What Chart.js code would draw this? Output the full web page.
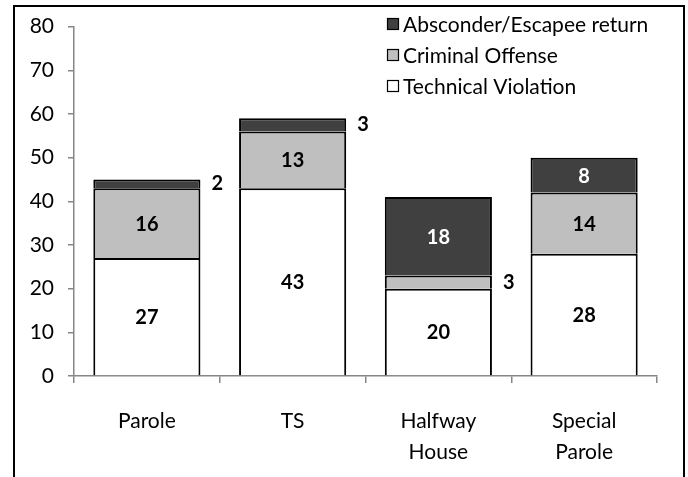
<!DOCTYPE html>
<html>
<head>
<meta charset="utf-8">
<script src="https://cdn.jsdelivr.net/npm/chart.js@4/dist/chart.umd.min.js"></script>
<style>
    html, body { margin: 0; padding: 0; background: #fff; }
    #wrap { position: relative; width: 688px; height: 477px; overflow: hidden; }
    #chart { position: absolute; left: 0; top: 0; }
    #frame {
        position: absolute; left: 13px; top: 5px; width: 668px; height: 520px;
        border: 2px solid #000; pointer-events: none;
    }
</style>
</head>
<body>
<div id="wrap">
    <canvas id="chart" width="688" height="477"></canvas>
    <div id="frame"></div>
</div>
<script>
// Chart data
const categories = [['Parole'], ['TS'], ['Halfway', 'House'], ['Special', 'Parole']];
const seriesNames = ['Technical Violation', 'Criminal Offense', 'Absconder/Escapee return'];
const technicalViolation = [27, 43, 20, 28];
const criminalOffense = [16, 13, 3, 14];
const absconderReturn = [2, 3, 18, 8];
const yTicks = [0, 10, 20, 30, 40, 50, 60, 70, 80];

const fillColors = ['#ffffff', '#bfbfbf', '#404040'];
const labelColors = ['#000000', '#000000', '#ffffff'];
const axisColor = '#868686';
const fontFamily = 'Lato, "Open Sans", sans-serif';

// Value labels: inside the segment, or to the right of the bar when the segment is thin
const valueLabels = {
    id: 'valueLabels',
    afterDatasetsDraw(chart) {
        const ctx = chart.ctx;
        ctx.save();
        ctx.font = 'bold 20px ' + fontFamily;
        ctx.textBaseline = 'middle';
        chart.data.datasets.forEach((ds, i) => {
            const meta = chart.getDatasetMeta(i);
            meta.data.forEach((bar, j) => {
                const v = ds.data[j];
                const midY = (bar.y + bar.base) / 2;
                if (v >= 5) {
                    ctx.fillStyle = labelColors[i];
                    ctx.textAlign = 'center';
                    ctx.fillText(String(v), bar.x, midY + 1);
                } else {
                    ctx.fillStyle = '#000';
                    ctx.textAlign = 'left';
                    ctx.fillText(String(v), bar.x + bar.width / 2 + 11, midY);
                }
            });
        });
        ctx.restore();
    }
};

// Legend drawn inside the plot area, top right, top series first
const boxLegend = {
    id: 'boxLegend',
    afterDraw(chart) {
        const ctx = chart.ctx;
        const x0 = 387;
        const rows = [24, 55, 86];
        ctx.save();
        ctx.font = '21px ' + fontFamily;
        ctx.textBaseline = 'middle';
        ctx.textAlign = 'left';
        const order = chart.data.datasets.slice().reverse();
        order.forEach((ds, k) => {
            const y = rows[k];
            ctx.fillStyle = ds.backgroundColor;
            ctx.fillRect(x0, y - 6, 12, 12);
            ctx.strokeStyle = '#000';
            ctx.lineWidth = 1.2;
            ctx.strokeRect(x0 + 0.5, y - 5.5, 11, 11);
            ctx.fillStyle = '#000';
            ctx.fillText(ds.label, x0 + 16, y + 1);
        });
        ctx.restore();
    }
};

const ctx = document.getElementById('chart');
new Chart(ctx, {
    type: 'bar',
    data: {
        labels: categories,
        datasets: [
            { label: seriesNames[0], data: technicalViolation, backgroundColor: fillColors[0] },
            { label: seriesNames[1], data: criminalOffense, backgroundColor: fillColors[1] },
            { label: seriesNames[2], data: absconderReturn, backgroundColor: fillColors[2] }
        ].map(ds => ({
            ...ds,
            borderColor: '#000',
            borderWidth: { top: 2, left: 2, right: 2, bottom: 0 },
            borderSkipped: false,
            inflateAmount: 0,
            categoryPercentage: 1,
            barPercentage: 0.735
        }))
    },
    options: {
        responsive: false,
        animation: false,
        layout: { padding: { top: 20, right: 31, bottom: 0, left: 0 } },
        plugins: {
            legend: { display: false },
            tooltip: { enabled: false }
        },
        scales: {
            x: {
                stacked: true,
                grid: {
                    display: true, drawOnChartArea: false, drawTicks: true,
                    tickLength: 7, offset: true, color: axisColor, lineWidth: 1.5
                },
                border: { color: axisColor, width: 1.5 },
                ticks: {
                    color: '#000', padding: 22,
                    font: { family: fontFamily, size: 21, lineHeight: 1.5 }
                },
                afterFit(scale) { scale.height = 101; }
            },
            y: {
                stacked: true,
                min: 0,
                max: 80,
                afterBuildTicks(scale) { scale.ticks = yTicks.map(v => ({ value: v })); },
                grid: {
                    display: true, drawOnChartArea: false, drawTicks: true,
                    tickLength: 6, color: axisColor, lineWidth: 1.5
                },
                border: { color: axisColor, width: 1.5 },
                ticks: {
                    color: '#000', padding: 14,
                    font: { family: fontFamily, size: 21 }
                },
                afterFit(scale) { scale.width = 74; }
            }
        }
    },
    plugins: [valueLabels, boxLegend]
});
</script>
</body>
</html>
